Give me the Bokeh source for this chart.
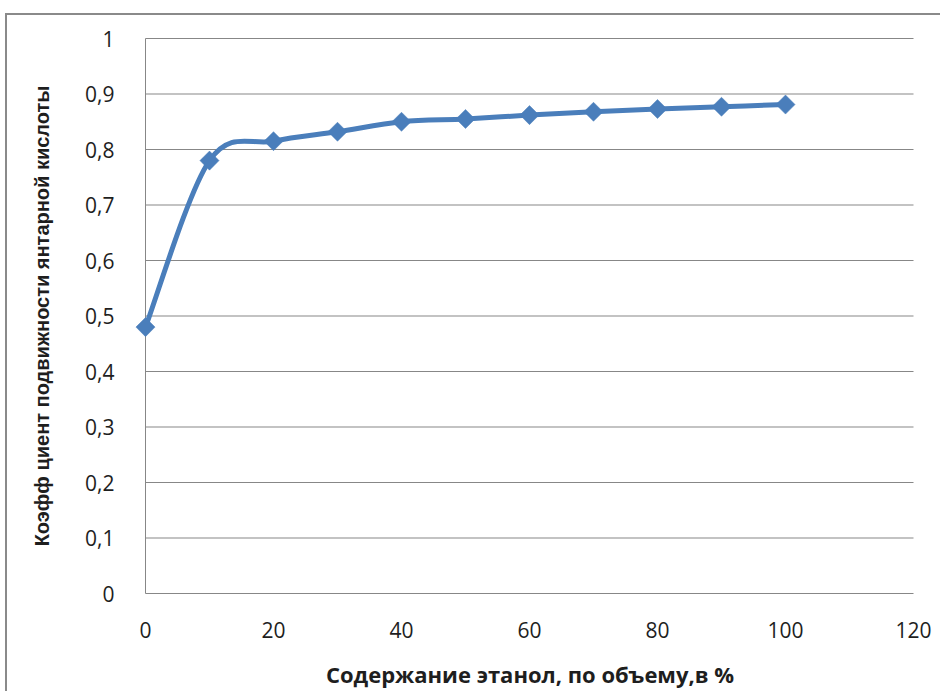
import numpy as np
from bokeh.plotting import figure
from bokeh.models import FixedTicker, Range1d
from bokeh.embed import file_html
from bokeh.resources import INLINE

# Ethanol content (% by volume) and mobility coefficient of succinic acid
ethanol_pct = [0, 10, 20, 30, 40, 50, 60, 70, 80, 90, 100]
mobility = [0.48, 0.78, 0.815, 0.832, 0.850, 0.855, 0.862, 0.868, 0.873, 0.877, 0.881]

x_ticks = [0, 20, 40, 60, 80, 100, 120]
y_ticks = [0.0, 0.1, 0.2, 0.3, 0.4, 0.5, 0.6, 0.7, 0.8, 0.9, 1.0]
y_tick_labels = ["0", "0,1", "0,2", "0,3", "0,4", "0,5", "0,6", "0,7", "0,8", "0,9", "1"]

LINE_BLUE = "#4A7EBB"
GRID_GRAY = "#878787"
TEXT_DARK = "#1e1e1e"

# plot-area geometry in pixels; the frame is padded on both sides so the
# first marker is not clipped and the axis title stays centred on 0..120
PX_X = 6.4     # pixels per percent
PX_Y = 555.0   # pixels per unit of coefficient
PAD_L = 15
PAD_R = 16
PAD_V = 3
X_MAX = 120

# chart area sits inside a grey frame offset from the page corner
OFF_X, OFF_Y, FRAME_W = 5, 13, 2

p = figure(
    width=942 - OFF_X - FRAME_W, height=693 - OFF_Y - FRAME_W,
    x_range=Range1d(-PAD_L / PX_X, X_MAX + PAD_R / PX_X),
    y_range=Range1d(-PAD_V / PX_Y, 1 + PAD_V / PX_Y),
    min_border_left=130 - OFF_X - FRAME_W, min_border_right=29 - PAD_R,
    min_border_top=35 - OFF_Y - FRAME_W, min_border_bottom=97,
    output_backend="svg", toolbar_location=None,
)
p.styles = {
    "margin-left": f"{OFF_X}px",
    "margin-top": f"{OFF_Y}px",
    "border-left": f"{FRAME_W}px solid #8a8a8a",
    "border-top": f"{FRAME_W}px solid #8a8a8a",
}
p.outline_line_color = None
p.background_fill_color = "white"
p.border_fill_color = "white"
p.xgrid.grid_line_color = None
p.ygrid.grid_line_color = None

# horizontal grid lines, bounded to the 0..120 span, plus the vertical axis line
p.segment(x0=[0] * len(y_ticks), x1=[X_MAX] * len(y_ticks), y0=y_ticks, y1=y_ticks,
          line_color=GRID_GRAY, line_width=1)
p.segment(x0=[0], x1=[0], y0=[0], y1=[1], line_color=GRID_GRAY, line_width=1)

# smoothed line through the points (Catmull-Rom as cubic Bezier pieces)
xs = np.asarray(ethanol_pct, dtype=float)
ys = np.asarray(mobility, dtype=float)
n = len(xs)
bx0, by0, bx1, by1, cx0, cy0, cx1, cy1 = ([] for _ in range(8))
for i in range(n - 1):
    a = max(i - 1, 0)
    b = min(i + 2, n - 1)
    bx0.append(xs[i]); by0.append(ys[i])
    bx1.append(xs[i + 1]); by1.append(ys[i + 1])
    cx0.append(xs[i] + (xs[i + 1] - xs[a]) / 6); cy0.append(ys[i] + (ys[i + 1] - ys[a]) / 6)
    cx1.append(xs[i + 1] - (xs[b] - xs[i]) / 6); cy1.append(ys[i + 1] - (ys[b] - ys[i]) / 6)
p.bezier(x0=bx0, y0=by0, x1=bx1, y1=by1, cx0=cx0, cy0=cy0, cx1=cx1, cy1=cy1,
         line_color=LINE_BLUE, line_width=5, line_cap="round")

p.scatter(ethanol_pct, mobility, marker="square", angle=np.pi / 4, size=13.5,
          fill_color=LINE_BLUE, line_color=LINE_BLUE, line_width=0.5)

# axes
for ax in (p.xaxis[0], p.yaxis[0]):
    ax.axis_line_color = None
    ax.major_tick_line_color = None
    ax.minor_tick_line_color = None
    ax.major_label_text_font = "Open Sans"
    ax.major_label_text_font_size = "21px"
    ax.major_label_text_color = TEXT_DARK

p.xaxis.ticker = FixedTicker(ticks=x_ticks)
p.xaxis.major_label_standoff = 19
p.xaxis.axis_label = "Содержание этанол, по объему,в %"
p.xaxis.axis_label_text_font = "Open Sans"
p.xaxis.axis_label_text_font_size = "22px"
p.xaxis.axis_label_text_font_style = "bold"
p.xaxis.axis_label_text_color = TEXT_DARK
p.xaxis.axis_label_standoff = 18

p.yaxis.ticker = FixedTicker(ticks=y_ticks)
p.yaxis.major_label_overrides = {t: lab for t, lab in zip(y_ticks, y_tick_labels)}
p.yaxis.major_label_standoff = 10
p.yaxis.axis_label = "Коэфф циент подвижности янтарной кислоты"
p.yaxis.axis_label_text_font = "Liberation Sans"
p.yaxis.axis_label_text_font_size = "20px"
p.yaxis.axis_label_text_font_style = "bold"
p.yaxis.axis_label_text_color = TEXT_DARK
p.yaxis.axis_label_standoff = 29

open("out.html", "w").write(file_html(p, INLINE))
